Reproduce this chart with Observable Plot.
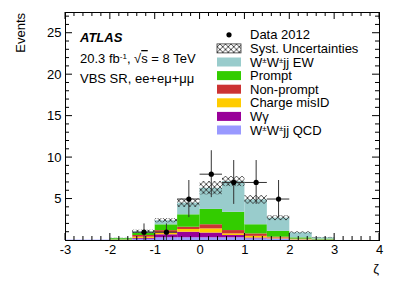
<!DOCTYPE html>
<html><head><meta charset="utf-8">
<script src="https://cdn.jsdelivr.net/npm/d3@7"></script>
<script src="https://cdn.jsdelivr.net/npm/@observablehq/plot@0.6"></script>
<style>body{margin:0;background:#fff;} svg{display:block}</style>
</head><body><div id="chart"></div>
<script>
// bin lower edges (width 0.5) in zeta
const binLow   = [-3, -2.5, -2, -1.5, -1, -0.5, 0, 0.5, 1, 1.5, 2, 2.5, 3, 3.5];
const binWidth = 0.5;
// stacked components, bottom to top
const qcd       = [0.04, 0.04, 0.03, 0.15, 0.33, 0.33, 0.33, 0.33, 0.20, 0.15, 0.05, 0.03, 0, 0];
const wgamma    = [0, 0, 0, 0.10, 0.36, 0.67, 0.57, 0.27, 0.10, 0.05, 0.02, 0, 0, 0];
const misid     = [0, 0, 0.02, 0.15, 0.20, 0.33, 0.50, 0.20, 0.20, 0.10, 0.05, 0.02, 0, 0];
const nonprompt = [0, 0, 0.02, 0.20, 0.30, 0.27, 0.50, 0.40, 0.30, 0.10, 0.05, 0.02, 0, 0];
const prompt    = [0, 0, 0.15, 0.25, 0.70, 1.50, 1.85, 2.20, 1.10, 0.70, 0.15, 0.10, 0, 0];
const ewk       = [0, 0, 0.03, 0.20, 0.50, 1.40, 2.55, 3.70, 3.00, 1.60, 0.60, 0.15, 0, 0];
const syst      = [0, 0, 0.03, 0.20, 0.25, 0.50, 0.80, 0.60, 0.50, 0.30, 0.12, 0.05, 0, 0];
const data2012  = [0, 0, 0, 1, 1, 5, 8, 7, 7, 5, 0, 0, 0, 0];

const xTicks = [-3, -2, -1, 0, 1, 2, 3, 4];
const yTicks = [5, 10, 15, 20, 25];

const compNames  = ["W±W±jj QCD", "Wγ", "Charge misID", "Non-prompt", "Prompt", "W±W±jj EW"];
const compValues = [qcd, wgamma, misid, nonprompt, prompt, ewk];
const compColors = ["#9999ff", "#990099", "#ffcc00", "#cc3333", "#33cc00", "#99cccc"];

const rows = [], systRows = [], dataRows = [];
binLow.forEach((lo, i) => {
  let acc = 0;
  compValues.forEach((vals, k) => {
    const v = vals[i];
    if (v > 0) rows.push({x1: lo, x2: lo + binWidth, y1: acc, y2: acc + v, color: compColors[k]});
    acc += v;
  });
  if (syst[i] > 0) systRows.push({x1: lo, x2: lo + binWidth, y1: Math.max(0, acc - syst[i]), y2: acc + syst[i]});
  const n = data2012[i];
  if (n > 0) dataRows.push({x: lo + binWidth / 2, x1: lo, x2: lo + binWidth, y: n, lo: Math.max(0, n - Math.sqrt(n)), hi: n + Math.sqrt(n)});
});

const FONT = "'Liberation Sans', Arial, Helvetica, sans-serif";

const svg = Plot.plot({
  width: 399, height: 286,
  marginLeft: 65, marginRight: 20, marginTop: 12, marginBottom: 46,
  style: {fontFamily: FONT, fontSize: "13px", color: "black", background: "white"},
  x: {domain: [-3, 4], label: null},
  y: {domain: [0, 27.5], label: null},
  color: {type: "identity"},
  marks: [
    Plot.rect(rows, {x1: "x1", x2: "x2", y1: "y1", y2: "y2", fill: "color", inset: 0}),
    Plot.rect(systRows, {x1: "x1", x2: "x2", y1: "y1", y2: "y2", fill: "url(#xhatch)", inset: 0}),
    Plot.ruleX(dataRows, {x: "x", y1: "lo", y2: "hi", stroke: "#333", strokeWidth: 1}),
    Plot.ruleY(dataRows, {y: "y", x1: "x1", x2: "x2", stroke: "#333", strokeWidth: 1}),
    Plot.dot(dataRows, {x: "x", y: "y", r: 2.6, fill: "black", stroke: "none"}),
    Plot.frame({stroke: "black", strokeWidth: 1}),
    Plot.axisX({ticks: xTicks, tickSize: 0, tickPadding: 4, tickFormat: d => String(d), label: null, fontSize: 13}),
    Plot.axisY({ticks: yTicks, tickSize: 0, tickPadding: 4, tickFormat: d => String(d), label: null, fontSize: 13})
  ]
});

const sx = svg.scale("x"), sy = svg.scale("y");
const s = d3.select(svg);
// hatch pattern
const defs = s.insert("defs", ":first-child");
const pat = defs.append("pattern").attr("id", "xhatch").attr("patternUnits", "userSpaceOnUse")
  .attr("width", 5.5).attr("height", 5.5);
pat.append("path").attr("d", "M0,0L5.5,5.5M5.5,0L0,5.5").attr("stroke", "#222").attr("stroke-width", 0.8).attr("fill", "none");

// inward ticks on all four sides
const X0 = sx.apply(-3), X1 = sx.apply(4), Y0 = sy.apply(0), Y1 = sy.apply(27.5);
const tg = s.append("g").attr("stroke", "black").attr("stroke-width", 1);
for (let i = 0; i <= 35; i++) {
  const v = -3 + i * 0.2;
  const major = i % 5 === 0;
  const L = major ? 7 : 4;
  const x = sx.apply(v);
  tg.append("line").attr("x1", x).attr("x2", x).attr("y1", Y0).attr("y2", Y0 - L);
  tg.append("line").attr("x1", x).attr("x2", x).attr("y1", Y1).attr("y2", Y1 + L);
}
for (let v = 1; v <= 27; v++) {
  const major = v % 5 === 0;
  const L = major ? 7 : 4;
  const y = sy.apply(v);
  tg.append("line").attr("x1", X0).attr("x2", X0 + L).attr("y1", y).attr("y2", y);
  tg.append("line").attr("x1", X1).attr("x2", X1 - L).attr("y1", y).attr("y2", y);
}

const txt = s.append("g").attr("font-family", FONT).attr("font-size", 13).attr("fill", "black").attr("text-anchor", "start");
// axis titles
txt.append("text").attr("transform", "translate(25,13) rotate(-90)").attr("text-anchor", "end").text("Events");
txt.append("text").attr("x", X1).attr("y", 273).attr("text-anchor", "end").text("ζ");
// ATLAS label
txt.append("text").attr("x", 80).attr("y", 42).attr("font-weight", "bold").attr("font-style", "italic").text("ATLAS");
txt.append("text").attr("x", 80).attr("y", 63)
  .html('20.3 fb<tspan dy="-4" font-size="8">-1</tspan><tspan dy="4">, √</tspan><tspan style="text-decoration:overline">s</tspan> = 8 TeV');
txt.append("text").attr("x", 80).attr("y", 83).text("VBS SR, ee+eμ+μμ");

// legend
const sup = '<tspan dy="-4" font-size="8">±</tspan><tspan dy="4">';
const legend = [
  {label: "Data 2012", kind: "dot"},
  {label: "Syst. Uncertainties", kind: "hatch"},
  {label: "W" + sup + "W</tspan>" + sup + "jj EW</tspan>", kind: "box", color: compColors[5]},
  {label: "Prompt", kind: "box", color: compColors[4]},
  {label: "Non-prompt", kind: "box", color: compColors[3]},
  {label: "Charge misID", kind: "box", color: compColors[2]},
  {label: "Wγ", kind: "box", color: compColors[1]},
  {label: "W" + sup + "W</tspan>" + sup + "jj QCD</tspan>", kind: "box", color: compColors[0]}
];
legend.forEach((e, i) => {
  const cy = 34.8 + i * 13.6;
  if (e.kind === "dot") {
    txt.append("circle").attr("cx", 229).attr("cy", cy).attr("r", 2.6).attr("fill", "black");
  } else if (e.kind === "hatch") {
    txt.append("rect").attr("x", 217).attr("y", cy - 4.5).attr("width", 24).attr("height", 9)
      .attr("fill", "url(#xhatch)").attr("stroke", "#333").attr("stroke-width", 0.8);
  } else {
    txt.append("rect").attr("x", 217).attr("y", cy - 4.5).attr("width", 24).attr("height", 9).attr("fill", e.color);
  }
  txt.append("text").attr("x", 250).attr("y", cy + 4.6).html(e.label);
});

document.getElementById("chart").appendChild(svg);
</script></body></html>
